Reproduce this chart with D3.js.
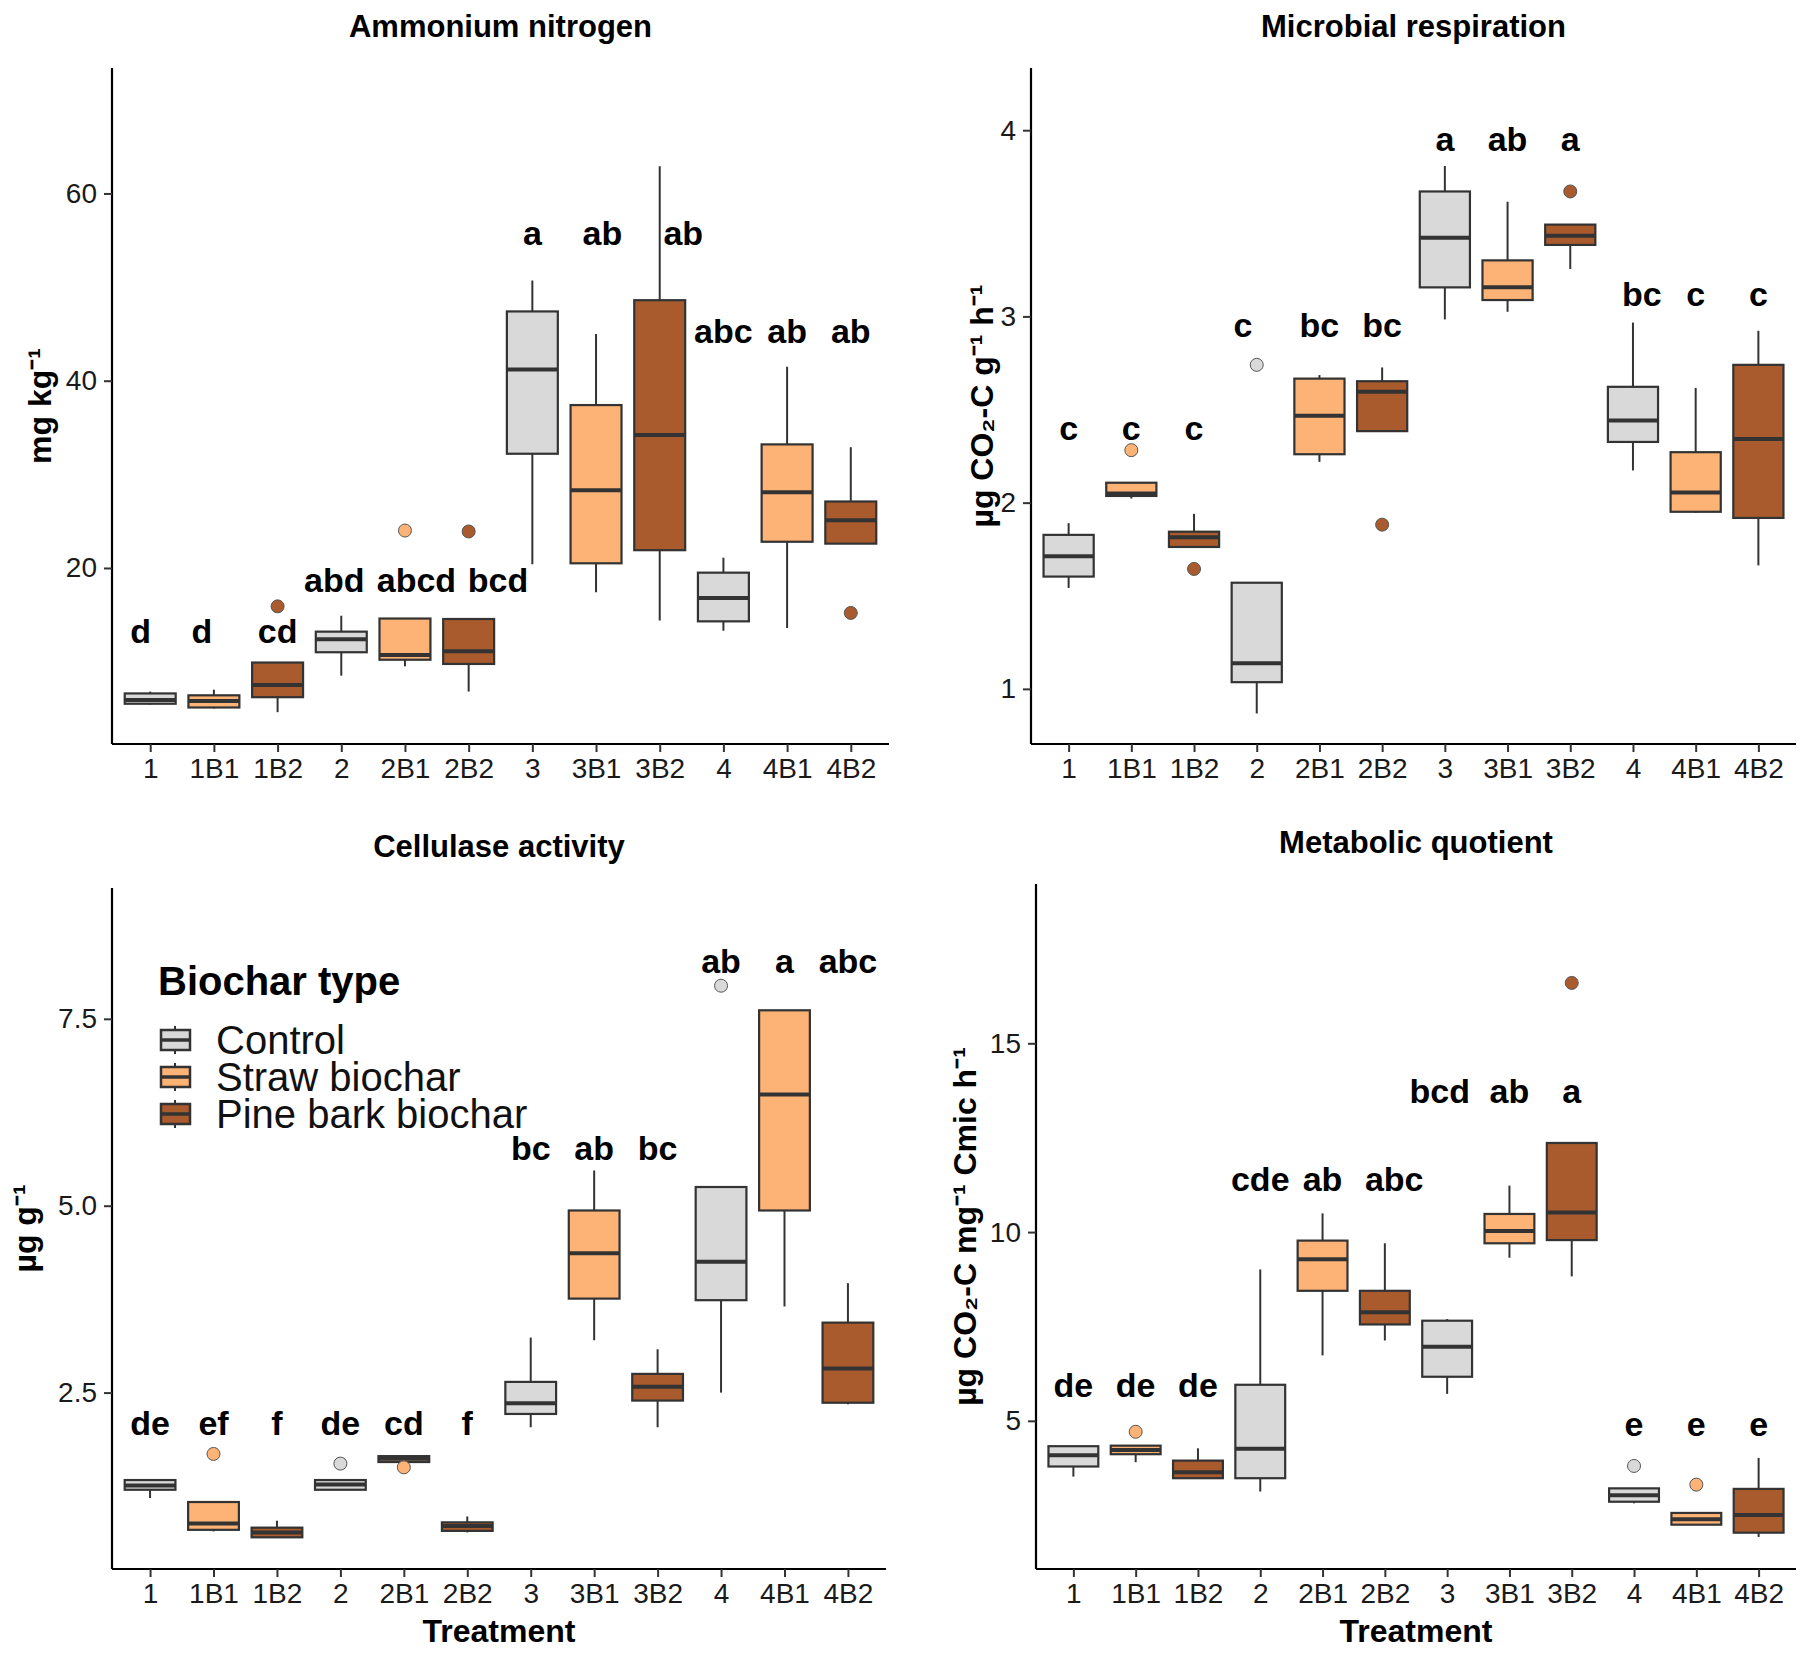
<!DOCTYPE html>
<html>
<head>
<meta charset="utf-8">
<script src="https://cdn.jsdelivr.net/npm/d3@7"></script>
<style>
  body { margin: 0; background: #fff; }
  svg { display: block; font-family: "Liberation Sans", Arial, sans-serif; }
</style>
</head>
<body>
<svg id="fig" width="1812" height="1655"></svg>
<script>
// treatments and biochar group of each one
var treatments = ["1", "1B1", "1B2", "2", "2B1", "2B2", "3", "3B1", "3B2", "4", "4B1", "4B2"];
var biocharOf = ["Control", "Straw biochar", "Pine bark biochar",
  "Control", "Straw biochar", "Pine bark biochar",
  "Control", "Straw biochar", "Pine bark biochar",
  "Control", "Straw biochar", "Pine bark biochar"];
var biocharTypes = ["Control", "Straw biochar", "Pine bark biochar"];

// box stats: [lower whisker, q1, median, q3, upper whisker]
var ammoniumBoxes = [
  [5.4, 5.5, 5.9, 6.6, 6.8], [5.0, 5.1, 5.8, 6.4, 7.0], [4.6, 6.2, 7.5, 9.9, 9.9],
  [8.5, 11.0, 12.4, 13.2, 14.9], [9.5, 10.2, 10.7, 14.6, 14.6], [6.8, 9.75, 11.1, 14.55, 14.55],
  [20.4, 32.2, 41.2, 47.4, 50.7], [17.4, 20.5, 28.3, 37.4, 45.0], [14.4, 21.9, 34.2, 48.6, 62.9],
  [13.3, 14.3, 16.8, 19.5, 21.1], [13.6, 22.8, 28.1, 33.2, 41.5], [22.6, 22.6, 25.1, 27.1, 32.9]
];
var ammoniumOutliers = [[], [], [15.9], [], [24.0], [23.9], [], [], [], [], [], [15.2]];
var ammoniumLetters = ["d", "d", "cd", "abd", "abcd", "bcd", "a", "ab", "ab", "abc", "ab", "ab"];
var ammoniumLetterY = [13.3, 13.3, 13.3, 18.7, 18.7, 18.7, 55.8, 55.8, 55.8, 45.3, 45.3, 45.3];

var respirationBoxes = [
  [1.542, 1.603, 1.712, 1.827, 1.89], [2.022, 2.036, 2.049, 2.107, 2.107], [1.762, 1.762, 1.814, 1.844, 1.94],
  [0.868, 1.036, 1.137, 1.570, 1.570], [2.219, 2.260, 2.466, 2.666, 2.685], [2.384, 2.384, 2.595, 2.652, 2.726],
  [2.984, 3.156, 3.422, 3.671, 3.808], [3.025, 3.088, 3.156, 3.301, 3.616], [3.255, 3.384, 3.433, 3.493, 3.493],
  [2.173, 2.326, 2.441, 2.622, 2.967], [1.945, 1.951, 2.055, 2.271, 2.616], [1.663, 1.918, 2.342, 2.740, 2.923]
];
var respirationOutliers = [[], [2.282], [1.644], [2.740], [], [1.882], [], [], [3.671], [], [], []];
var respirationLetters = ["c", "c", "c", "c", "bc", "bc", "a", "ab", "a", "bc", "c", "c"];
var respirationLetterY = [2.403, 2.403, 2.403, 2.953, 2.953, 2.953, 3.953, 3.953, 3.953, 3.118, 3.118, 3.118];

var cellulaseBoxes = [
  [1.09, 1.20, 1.257, 1.33, 1.33], [0.643, 0.664, 0.75, 1.036, 1.036], [0.564, 0.564, 0.629, 0.693, 0.786],
  [1.20, 1.20, 1.271, 1.33, 1.33], [1.571, 1.571, 1.614, 1.65, 1.65], [0.629, 0.65, 0.714, 0.764, 0.843],
  [2.036, 2.214, 2.357, 2.643, 3.236], [3.2, 3.757, 4.364, 4.936, 5.471], [2.036, 2.393, 2.579, 2.75, 3.079],
  [2.5, 3.736, 4.25, 5.25, 5.25], [3.65, 4.936, 6.486, 7.614, 7.614], [2.343, 2.364, 2.821, 3.436, 3.964]
];
var cellulaseOutliers = [[], [1.679], [], [1.55], [1.5], [], [], [], [], [7.943], [], []];
var cellulaseLetters = ["de", "ef", "f", "de", "cd", "f", "bc", "ab", "bc", "ab", "a", "abc"];
var cellulaseLetterY = [2.093, 2.093, 2.093, 2.093, 2.093, 2.093, 5.771, 5.771, 5.771, 8.271, 8.271, 8.271];

var quotientBoxes = [
  [3.522, 3.79, 4.088, 4.328, 4.328], [3.904, 4.116, 4.229, 4.342, 4.342], [3.48, 3.48, 3.635, 3.946, 4.272],
  [3.126, 3.48, 4.257, 5.955, 9.01], [6.733, 8.444, 9.279, 9.774, 10.495], [7.129, 7.553, 7.878, 8.444, 9.703],
  [5.714, 6.167, 6.959, 7.652, 7.695], [9.321, 9.703, 10.03, 10.48, 11.23], [8.826, 9.788, 10.52, 12.36, 12.36],
  [2.815, 2.857, 3.027, 3.211, 3.211], [2.249, 2.249, 2.39, 2.56, 2.56], [1.924, 2.037, 2.504, 3.197, 4.017]
];
var quotientOutliers = [[], [4.71], [], [], [], [], [], [], [16.6], [3.805], [3.31], []];
var quotientLetters = ["de", "de", "de", "cde", "ab", "abc", "bcd", "ab", "a", "e", "e", "e"];
var quotientLetterY = [5.955, 5.955, 5.955, 11.41, 11.41, 11.41, 13.73, 13.73, 13.73, 4.91, 4.91, 4.91];

var colour = d3.scaleOrdinal()
  .domain(biocharTypes)
  .range(["#D9D9D9", "#FDB276", "#A95B2D"]);

var svg = d3.select("#fig");

function drawPanel(p) {
  var x = d3.scalePoint().domain(treatments).range([p.left, p.right]).padding(0.6);
  var y = d3.scaleLinear().domain(p.domain).range([p.bottom, p.top]);
  var bw = x.step() * 0.8;
  var nudge = p.nudge || {};
  var g = svg.append("g");

  // title
  g.append("text")
    .attr("x", (p.left + p.right) / 2)
    .attr("y", p.top - 31)
    .attr("text-anchor", "middle")
    .attr("font-size", "31px")
    .attr("font-weight", "bold")
    .text(p.title);

  // y axis title
  g.append("text")
    .attr("transform", "translate(" + p.yTitleX + "," + (p.top + p.bottom) / 2 + ") rotate(-90)")
    .attr("text-anchor", "middle")
    .attr("dy", "0.35em")
    .attr("font-size", "32px")
    .attr("font-weight", "bold")
    .text(p.yTitle);

  var boxes = g.append("g")
    .selectAll("g")
    .data(treatments)
    .enter()
    .append("g")
    .attr("transform", function (d) {
      return "translate(" + x(d) + ",0)";
    });

  // whiskers
  boxes.append("line")
    .attr("x1", 0).attr("x2", 0)
    .attr("y1", function (d, i) { return y(p.boxes[i][0]); })
    .attr("y2", function (d, i) { return y(p.boxes[i][4]); })
    .attr("stroke", "#333")
    .attr("stroke-width", 2);

  boxes.append("rect")
    .attr("x", -bw / 2)
    .attr("width", bw)
    .attr("y", function (d, i) { return y(p.boxes[i][3]); })
    .attr("height", function (d, i) { return y(p.boxes[i][1]) - y(p.boxes[i][3]); })
    .attr("fill", function (d, i) { return colour(biocharOf[i]); })
    .attr("stroke", "#333")
    .attr("stroke-width", 2.2);

  boxes.append("line")
    .attr("x1", -bw / 2).attr("x2", bw / 2)
    .attr("y1", function (d, i) { return y(p.boxes[i][2]); })
    .attr("y2", function (d, i) { return y(p.boxes[i][2]); })
    .attr("stroke", "#333")
    .attr("stroke-width", 4);

  boxes.selectAll("circle")
    .data(function (d, i) {
      return p.outliers[i].map(function (v) { return { v: v, type: biocharOf[i] }; });
    })
    .enter()
    .append("circle")
    .attr("cx", 0)
    .attr("cy", function (d) { return y(d.v); })
    .attr("r", 6.5)
    .attr("fill", function (d) { return colour(d.type); })
    .attr("stroke", "#555")
    .attr("stroke-width", 1);

  // significance letters
  boxes.append("text")
    .attr("x", function (d, i) { return (nudge[i] || 0) * x.step(); })
    .attr("y", function (d, i) { return y(p.letterY[i]); })
    .attr("dy", "0.35em")
    .attr("text-anchor", "middle")
    .attr("font-size", "34px")
    .attr("font-weight", "bold")
    .text(function (d, i) { return p.letters[i]; });

  // axes
  var xAxis = g.append("g")
    .attr("transform", "translate(0," + p.bottom + ")")
    .call(d3.axisBottom(x).tickSize(8).tickPadding(6));
  xAxis.select(".domain").attr("d", "M" + p.left + ",0H" + p.right);

  var yAxis = g.append("g")
    .attr("transform", "translate(" + p.left + ",0)")
    .call(d3.axisLeft(y).tickValues(p.ticks).tickFormat(p.format).tickSize(8).tickPadding(7));
  yAxis.select(".domain").attr("d", "M0," + p.top + "V" + p.bottom);

  g.selectAll(".domain").attr("stroke", "#000").attr("stroke-width", 2.2);
  g.selectAll(".tick line").attr("stroke", "#333").attr("stroke-width", 2);
  g.selectAll(".tick text")
    .attr("font-size", "28px")
    .attr("font-family", "'Liberation Sans', Arial, sans-serif")
    .attr("fill", "#1a1a1a");

  if (p.xTitle) {
    g.append("text")
      .attr("x", (p.left + p.right) / 2)
      .attr("y", p.bottom + 73)
      .attr("text-anchor", "middle")
      .attr("font-size", "32px")
      .attr("font-weight", "bold")
      .text(p.xTitle);
  }
  return g;
}

drawPanel({
  title: "Ammonium nitrogen", yTitle: "mg kg⁻¹", yTitleX: 40,
  left: 112, right: 889, top: 68, bottom: 744,
  domain: [1.2, 73.4], ticks: [20, 40, 60], format: d3.format("d"),
  boxes: ammoniumBoxes, outliers: ammoniumOutliers, letters: ammoniumLetters, letterY: ammoniumLetterY,
  nudge: { 0: -0.15, 1: -0.19, 3: -0.11, 4: 0.18, 5: 0.46, 7: 0.1, 8: 0.37 }
});

drawPanel({
  title: "Microbial respiration", yTitle: "µg CO₂-C g⁻¹ h⁻¹", yTitleX: 982,
  left: 1031, right: 1796, top: 68, bottom: 744,
  domain: [0.704, 4.334], ticks: [1, 2, 3, 4], format: d3.format("d"),
  boxes: respirationBoxes, outliers: respirationOutliers, letters: respirationLetters, letterY: respirationLetterY,
  nudge: { 3: -0.22, 9: 0.14 }
});

drawPanel({
  title: "Cellulase activity", yTitle: "µg g⁻¹", yTitleX: 25, xTitle: "Treatment",
  left: 112, right: 886, top: 888, bottom: 1569,
  domain: [0.14, 9.25], ticks: [2.5, 5.0, 7.5], format: d3.format(".1f"),
  boxes: cellulaseBoxes, outliers: cellulaseOutliers, letters: cellulaseLetters, letterY: cellulaseLetterY
});

drawPanel({
  title: "Metabolic quotient", yTitle: "µg CO₂-C mg⁻¹ Cmic h⁻¹", yTitleX: 965, xTitle: "Treatment",
  left: 1036, right: 1796, top: 884, bottom: 1569,
  domain: [1.075, 19.22], ticks: [5, 10, 15], format: d3.format("d"),
  boxes: quotientBoxes, outliers: quotientOutliers, letters: quotientLetters, letterY: quotientLetterY,
  nudge: { 5: 0.15, 6: -0.12 }
});

// legend inside the cellulase panel
var legend = svg.append("g").attr("transform", "translate(158,0)");
legend.append("text")
  .attr("x", 0)
  .attr("y", 995)
  .attr("font-size", "40px")
  .attr("font-weight", "bold")
  .text("Biochar type");

var item = legend.selectAll("g.item")
  .data(biocharTypes)
  .enter()
  .append("g")
  .attr("class", "item")
  .attr("transform", function (d, i) {
    return "translate(0," + (1040 + i * 37) + ")";
  });

item.append("line")
  .attr("x1", 17).attr("x2", 17)
  .attr("y1", -14).attr("y2", 14)
  .attr("stroke", "#333").attr("stroke-width", 2);
item.append("rect")
  .attr("x", 3).attr("y", -10)
  .attr("width", 29).attr("height", 20)
  .attr("fill", colour)
  .attr("stroke", "#333").attr("stroke-width", 2.5);
item.append("line")
  .attr("x1", 3).attr("x2", 32)
  .attr("y1", 0).attr("y2", 0)
  .attr("stroke", "#333").attr("stroke-width", 3.5);
item.append("text")
  .attr("x", 58)
  .attr("dy", "0.35em")
  .attr("font-size", "40px")
  .attr("fill", "#111")
  .text(function (d) { return d; });
</script>
</body>
</html>
